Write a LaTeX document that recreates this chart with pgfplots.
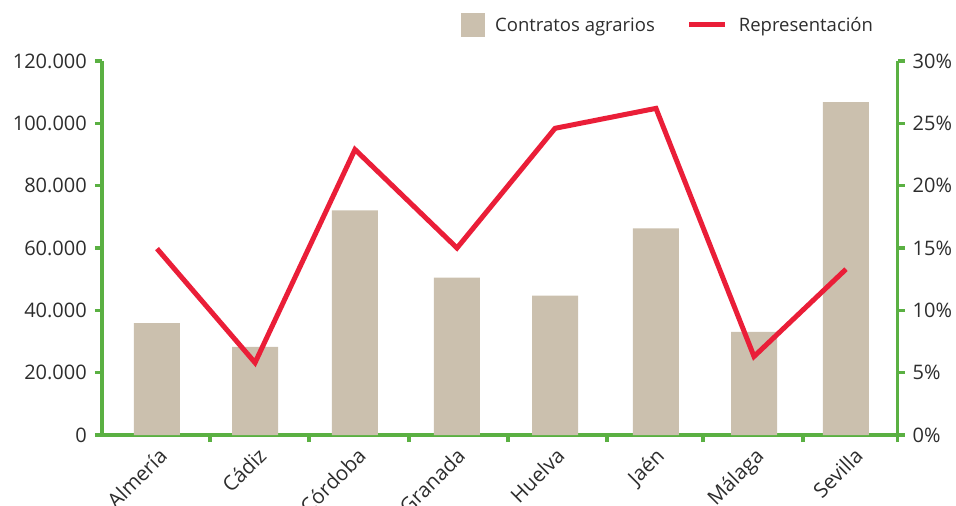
\documentclass[border=0pt]{standalone}
\usepackage{pgfplots}
\pgfplotsset{compat=1.18}
\usepackage{fontspec}
\setmainfont{Open Sans}
\definecolor{axgreen}{RGB}{90,176,66}
\definecolor{barbeige}{RGB}{203,192,174}
\definecolor{linered}{RGB}{234,30,56}
\definecolor{txt}{RGB}{45,45,45}
\pgfplotstableread{
x bars rep
0.053 35900 14.95
1.039 28300 5.8
2.044 72100 22.9
3.070 50500 15.0
4.056 44700 24.6
5.071 66300 26.2
6.057 33100 6.3
6.982 106800 13.3
}\datatable
\begin{document}
\begin{tikzpicture}[font=\fontsize{20}{22}\selectfont, text=txt]
\useasboundingbox (-102pt,-71pt) rectangle (854pt,435pt);
\begin{axis}[
  at={(0pt,0pt)}, anchor=south west,
  scale only axis, width=795.5pt, height=374pt,
  xmin=-0.5, xmax=7.5, ymin=0, ymax=120000,
  axis y line*=left, axis x line*=bottom,
  axis line style={axgreen, line width=3.6pt},
  every tick/.style={axgreen, line width=3.6pt},
  tick align=outside,
  major tick length=7pt,
  xtick={0,...,7},
  xticklabels={Almería,Cádiz,Córdoba,Granada,Huelva,Jaén,Málaga,Sevilla},
  x tick style={draw=none},
  minor xtick={0.586,1.582,2.587,3.583,4.578,5.544,6.549,7.5},
  minor x tick style={draw=axgreen, line width=3.6pt},
  minor tick length=7pt,
  xticklabel style={font=\fontsize{20.5}{22}\selectfont, inner sep=0pt, anchor=north east,
    xshift=5.5pt, yshift=-4pt, rotate=45},
  ytick={0,20000,...,120000},
  yticklabels={0,20.000,40.000,60.000,80.000,100.000,120.000},
  yticklabel style={/pgf/number format/assume math mode=true, inner sep=0pt, xshift=-8pt},
  scaled y ticks=false,
  clip=false,
]
\addplot[ybar, bar width=46pt, fill=barbeige, draw=none] table[x=x, y=bars] {\datatable};
\end{axis}
\begin{axis}[
  at={(0pt,0pt)}, anchor=south west,
  scale only axis, width=795.5pt, height=374pt,
  xmin=-0.5, xmax=7.5, ymin=0, ymax=30,
  axis y line*=right, axis x line=none,
  axis line style={axgreen, line width=3.6pt},
  every tick/.style={axgreen, line width=3.6pt},
  tick align=outside,
  major tick length=7pt,
  ytick={0,5,...,30},
  yticklabels={0\%,5\%,10\%,15\%,20\%,25\%,30\%},
  yticklabel style={inner sep=0pt, xshift=8pt},
  legend style={draw=none, fill=none, at={(771pt,410pt)}, anchor=east,
    inner sep=0pt, outer sep=0pt, nodes={inner sep=0pt},
    legend columns=2, font=\fontsize{18.5}{20}\selectfont,
    /tikz/every odd column/.append style={column sep=11pt},
    /tikz/every even column/.append style={column sep=32pt}},
  legend cell align=left,
  clip=false,
]
\addlegendimage{legend image code/.code={\fill[barbeige] (0pt,-11.5pt) rectangle (23pt,11.5pt);}}
\addlegendentry{Contratos agrarios}
\addplot[linered, line width=5pt, line join=miter,
  legend image code/.code={\draw[linered, line width=5pt] (0pt,0pt) -- (36pt,0pt);}]
  table[x=x, y=rep] {\datatable};
\addlegendentry{Representación}
\end{axis}
\end{tikzpicture}
\end{document}
